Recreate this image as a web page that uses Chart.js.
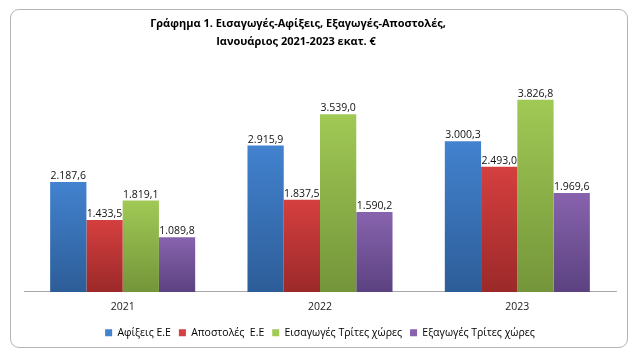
<!DOCTYPE html>
<html>
<head>
<meta charset="utf-8">
<script src="https://cdn.jsdelivr.net/npm/chart.js@4.4.0/dist/chart.umd.min.js"></script>
<style>
  html, body { margin: 0; padding: 0; background: #ffffff; }
  #wrap { position: relative; width: 636px; height: 363px; }
  #frame {
    position: absolute; left: 10px; top: 9px; width: 616px; height: 337px;
    border: 1.5px solid #b4b4b4; border-radius: 9px;
  }
  #myChart { position: absolute; left: 0; top: 0; }
</style>
</head>
<body>
<div id="wrap">
  <div id="frame"></div>
  <canvas id="myChart" width="636" height="363"></canvas>
</div>
<script>
// Data
const years = ['2021', '2022', '2023'];
const arrivalsEU = [2187.6, 2915.9, 3000.3];
const dispatchesEU = [1433.5, 1837.5, 2493.0];
const importsThird = [1819.1, 3539.0, 3826.8];
const exportsThird = [1089.8, 1590.2, 1969.6];
const seriesNames = ['Αφίξεις Ε.Ε', 'Αποστολές  Ε.Ε', 'Εισαγωγές Τρίτες χώρες', 'Εξαγωγές Τρίτες χώρες'];
const titleLines = ['Γράφημα 1. Εισαγωγές-Αφίξεις, Εξαγωγές-Αποστολές,', 'Ιανουάριος 2021-2023 εκατ. €'];

// top / bottom colours of each bar gradient
const palette = [
    ['#4282cf', '#2d5d98'],
    ['#d53f3f', '#9c2929'],
    ['#a0c955', '#74953a'],
    ['#8763ad', '#5c4281'],
];

document.addEventListener("DOMContentLoaded", function () {
    Chart.defaults.font.family = '"Open Sans", "DejaVu Sans", sans-serif';
    Chart.defaults.color = '#1a1a1a';

    const ctx = document.getElementById('myChart').getContext('2d');

    // Greek number format: 2.187,6
    function fmt(v) {
        const parts = v.toFixed(1).split('.');
        return parts[0].replace(/\B(?=(\d{3})+(?!\d))/g, '.') + ',' + parts[1];
    }

    // per-bar vertical gradient
    function barFill(i) {
        return function (context) {
            const chart = context.chart;
            const area = chart.chartArea;
            if (!area || context.type !== 'data') return palette[i][0];
            const y = chart.scales.y;
            const top = y.getPixelForValue(context.raw);
            const bottom = y.getPixelForValue(0);
            const g = chart.ctx.createLinearGradient(0, top, 0, bottom);
            g.addColorStop(0, palette[i][0]);
            g.addColorStop(1, palette[i][1]);
            return g;
        };
    }

    // value labels above the bars
    const valueLabels = {
        id: 'valueLabels',
        afterDatasetsDraw(chart) {
            const c = chart.ctx;
            c.save();
            c.font = '10.5px "Open Sans", sans-serif';
            c.fillStyle = '#111111';
            c.textAlign = 'center';
            c.textBaseline = 'alphabetic';
            chart.data.datasets.forEach((ds, i) => {
                chart.getDatasetMeta(i).data.forEach((bar, j) => {
                    c.fillText(fmt(ds.data[j]), bar.x, bar.y - 3);
                });
            });
            c.restore();
        }
    };

    // two line title, centred like the original
    const titleText = {
        id: 'titleText',
        afterDraw(chart) {
            const c = chart.ctx;
            c.save();
            c.font = 'bold 11px "Open Sans", sans-serif';
            c.fillStyle = '#000000';
            c.textAlign = 'center';
            c.textBaseline = 'middle';
            c.fillText(titleLines[0], 298, 24);
            c.fillText(titleLines[1], 296, 42);
            c.restore();
        }
    };

    const allSeries = [arrivalsEU, dispatchesEU, importsThird, exportsThird];

    const myChart = new Chart(ctx, {
        type: 'bar',
        data: {
            labels: years,
            datasets: allSeries.map((values, i) => ({
                label: seriesNames[i],
                data: values,
                backgroundColor: barFill(i),
                borderWidth: 0,
                barPercentage: 1,
                categoryPercentage: 0.735,
            })),
        },
        options: {
            responsive: false,
            animation: false,
            layout: {
                padding: { left: 24, right: 20, top: 61, bottom: 15 },
            },
            scales: {
                x: {
                    grid: { display: false, drawTicks: false },
                    border: { display: true, color: '#a8a8a8', width: 1 },
                    ticks: { padding: 9, color: '#1a1a1a', font: { size: 10.5 } },
                    afterFit(scale) { scale.height = scale.height - 3; },
                },
                y: {
                    display: false,
                    min: 0,
                    max: 4600,
                },
            },
            plugins: {
                legend: {
                    position: 'bottom',
                    labels: {
                        boxWidth: 7,
                        boxHeight: 7,
                        padding: 8,
                        color: '#1a1a1a',
                        font: { size: 10.5 },
                        generateLabels(chart) {
                            return chart.data.datasets.map((ds, i) => ({
                                text: ds.label,
                                fillStyle: palette[i][0],
                                strokeStyle: palette[i][0],
                                lineWidth: 0,
                                datasetIndex: i,
                            }));
                        },
                    },
                },
                tooltip: { enabled: false },
            },
        },
        plugins: [valueLabels, titleText],
    });
});
</script>
</body>
</html>
